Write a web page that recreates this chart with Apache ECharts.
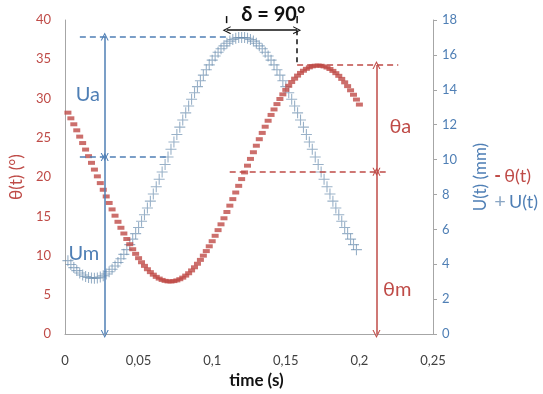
<!DOCTYPE html>
<html><head><meta charset="utf-8">
<script src="https://cdn.jsdelivr.net/npm/echarts@6/dist/echarts.min.js"></script>
<style>html,body{margin:0;padding:0;background:#fff}#c{width:543px;height:394px}</style>
</head><body><div id="c"></div>
<script>
// ---- data ----
const time = [0.002,0.004,0.006,0.008,0.010,0.012,0.014,0.016,0.018,0.020,
0.022,0.024,0.026,0.028,0.030,0.032,0.034,0.036,0.038,0.040,
0.042,0.044,0.046,0.048,0.050,0.052,0.054,0.056,0.058,0.060,
0.062,0.064,0.066,0.068,0.070,0.072,0.074,0.076,0.078,0.080,
0.082,0.084,0.086,0.088,0.090,0.092,0.094,0.096,0.098,0.100,
0.102,0.104,0.106,0.108,0.110,0.112,0.114,0.116,0.118,0.120,
0.122,0.124,0.126,0.128,0.130,0.132,0.134,0.136,0.138,0.140,
0.142,0.144,0.146,0.148,0.150,0.152,0.154,0.156,0.158,0.160,
0.162,0.164,0.166,0.168,0.170,0.172,0.174,0.176,0.178,0.180,
0.182,0.184,0.186,0.188,0.190,0.192,0.194,0.196,0.198,0.200];
const theta = [28.20,27.48,26.72,25.95,25.15,24.33,23.50,22.66,21.81,20.95,
20.09,19.23,18.38,17.53,16.70,15.88,15.08,14.30,13.54,12.81,
12.11,11.45,10.81,10.22,9.67,9.15,8.69,8.26,7.89,7.57,
7.29,7.07,6.90,6.78,6.71,6.70,6.75,6.84,6.99,7.19,
7.45,7.75,8.11,8.51,8.96,9.45,9.99,10.57,11.18,11.83,
12.52,13.24,13.98,14.75,15.55,16.36,17.19,18.03,18.88,19.74,
20.59,21.45,22.31,23.16,23.99,24.82,25.62,26.41,27.17,27.91,
28.61,29.29,29.94,30.53,31.10,31.62,32.10,32.53,32.92,33.26,
33.54,33.78,33.97,34.10,34.18,34.20,34.17,34.09,33.95,33.76,
33.52,33.23,32.89,32.50,32.06,31.58,31.05,30.48,29.87,29.23];
const disp = [4.21,3.99,3.81,3.64,3.50,3.39,3.30,3.24,3.21,3.20,
3.22,3.27,3.34,3.44,3.57,3.72,3.90,4.10,4.32,4.57,
4.84,5.13,5.44,5.76,6.11,6.47,6.84,7.23,7.62,8.03,
8.44,8.87,9.29,9.72,10.15,10.59,11.01,11.44,11.86,12.27,
12.68,13.07,13.46,13.83,14.18,14.52,14.84,15.15,15.43,15.70,
15.94,16.15,16.35,16.52,16.67,16.79,16.88,16.95,16.99,17.00,
16.99,16.95,16.88,16.79,16.67,16.52,16.35,16.15,15.94,15.70,
15.43,15.15,14.84,14.52,14.18,13.83,13.46,13.07,12.68,12.27,
11.86,11.44,11.01,10.59,10.15,9.72,9.29,8.87,8.44,8.03,
7.62,7.23,6.84,6.47,6.11,5.76,5.44,5.13,4.84];
const xTicks = [0, 0.05, 0.1, 0.15, 0.2, 0.25];
// annotation levels (data units)
const uMax = 17.05, uMean = 10.15;
const thMax = 34.28, thMean = 20.67;
const tUArrow = 0.027, tThArrow = 0.2116;
const tDeltaA = 0.1098, tDeltaB = 0.1577, thDeltaY = 38.7;
const deltaText = 'δ = 90°', tDeltaText = 0.1415, thDeltaText = 40.7;

const FONT = 'Lato, "Open Sans", sans-serif';
const RED = '#bf4b47', BLUE = '#4f7fb5', BLACK = '#111';
const chev = 'path://M0,10L5,0L10,10L8.6,10L5,2.8L1.4,10Z';

function seg(a, b, style, s1, s2) {
  return [{coord: a, lineStyle: style, symbol: s1 || 'none', symbolSize: [8, 8]},
          {coord: b, symbol: s2 || 'none', symbolSize: [8, 8]}];
}
function txt(c, s, color, size, weight) {
  return {coord: c, value: s, symbol: 'circle', symbolSize: 1, itemStyle: {color: 'rgba(0,0,0,0)'},
    label: {show: true, position: 'inside', formatter: s, color: color, fontSize: size, fontFamily: FONT, fontWeight: weight || 'normal'}};
}
const dashB = {type: [6, 4], color: BLUE, width: 1.5};
const solidB = {type: 'solid', color: BLUE, width: 1.5};
const dashR = {type: [6, 4], color: RED, width: 1.5};
const solidR = {type: 'solid', color: RED, width: 1.5};
const solidK = {type: 'solid', color: BLACK, width: 1.5};
const dashK = {type: [5, 4], color: BLACK, width: 1.5};

const chart = echarts.init(document.getElementById('c'), null, {renderer: 'canvas'});
chart.setOption({
  animation: false,
  grid: {left: 62, right: 110, top: 20, bottom: 51},
  legend: {
    orient: 'vertical', right: 0, top: 162, itemGap: 7, itemWidth: 0, itemHeight: 0,
    selectedMode: false, data: ['θ(t)', 'U(t)'],
    formatter: n => n === 'θ(t)' ? '{r|-} {rt|θ(t)}' : '{b|+} {bt|U(t)}',
    textStyle: {fontFamily: FONT, rich: {
      r: {color: RED, fontSize: 18, fontWeight: 'bold', fontFamily: FONT},
      rt: {color: RED, fontSize: 18, fontFamily: FONT},
      b: {color: '#8aa6c4', fontSize: 20, fontFamily: FONT},
      bt: {color: BLUE, fontSize: 18, fontFamily: FONT}}}
  },
  xAxis: {
    type: 'value', min: 0, max: 0.25, interval: 0.05,
    axisLine: {show: true, lineStyle: {color: '#a6a6a6'}}, axisTick: {show: false}, splitLine: {show: false},
    axisLabel: {margin: 20, color: '#404040', fontSize: 13, fontFamily: FONT,
      formatter: v => String(+v.toFixed(2)).replace('.', ',')},
    name: 'time (s)', nameLocation: 'middle', nameGap: 29,
    nameTextStyle: {color: BLACK, fontSize: 17, fontWeight: 'bold', fontFamily: FONT, padding: [0, 0, 0, 15]}
  },
  yAxis: [{
    type: 'value', min: 0, max: 40, interval: 5, position: 'left',
    axisLine: {show: true, lineStyle: {color: '#a6a6a6'}}, axisTick: {show: false}, splitLine: {show: false},
    axisLabel: {margin: 14, color: RED, fontSize: 13, fontFamily: FONT},
    name: 'θ(t) (°)', nameLocation: 'middle', nameGap: 36, nameRotate: 90,
    nameTextStyle: {color: RED, fontSize: 17, fontFamily: FONT}
  }, {
    type: 'value', min: 0, max: 18, interval: 2, position: 'right',
    axisLine: {show: true, lineStyle: {color: '#a6a6a6'}},
    axisTick: {show: true, length: 4, lineStyle: {color: '#a6a6a6'}}, splitLine: {show: false},
    axisLabel: {margin: 9, color: BLUE, fontSize: 13, fontFamily: FONT},
    name: 'U(t) (mm)', nameLocation: 'middle', nameGap: 39, nameRotate: 90,
    nameTextStyle: {color: BLUE, fontSize: 17, fontFamily: FONT}
  }],
  series: [{
    name: 'U(t)', type: 'scatter', yAxisIndex: 1, clip: false,
    symbol: 'path://M4.5,0h1v10h-1z M0,4.5h10v1h-10z', symbolSize: 11,
    itemStyle: {color: 'rgba(105,140,175,0.85)'},
    data: disp.map((v, i) => [time[i], v]),
    markLine: {silent: true, animation: false, label: {show: false}, symbol: 'none',
      data: [
        seg([0.0101, uMax], [tDeltaA, uMax], dashB),
        seg([0.0101, uMean], [0.0708, uMean], dashB),
        seg([tUArrow, uMean], [tUArrow, uMax], solidB, chev, chev),
        seg([tUArrow, uMean], [tUArrow, 0], solidB, chev, chev)
      ]},
    markPoint: {silent: true, animation: false, data: [
      txt([0.0155, 13.7], 'Ua', BLUE, 20),
      txt([0.0128, 4.6], 'Um', BLUE, 20)
    ]}
  }, {
    name: 'θ(t)', type: 'scatter', yAxisIndex: 0, clip: false,
    symbol: 'rect', symbolSize: [7, 4],
    itemStyle: {color: RED},
    data: theta.map((v, i) => [time[i], v]),
    markLine: {silent: true, animation: false, label: {show: false}, symbol: 'none',
      data: [
        seg([tDeltaB, thMax], [0.2264, thMax], dashR),
        seg([0.1119, thMean], [0.219, thMean], dashR),
        seg([tThArrow, thMean], [tThArrow, thMax], solidR, chev, chev),
        seg([tThArrow, thMean], [tThArrow, 0], solidR, chev, chev),
        seg([tDeltaA, thDeltaY], [tDeltaB, thDeltaY], solidK, chev, chev),
        seg([tDeltaB, thDeltaY], [tDeltaB, thMax], dashK)
      ]},
    markPoint: {silent: true, animation: false, data: [
      txt([0.2278, 26.4], 'θa', RED, 20),
      txt([0.2257, 5.7], 'θm', RED, 20)
    ]}
  }]
});

// annotations above the plot top (outside the axis range) placed through the axis scales
const pText = chart.convertToPixel({xAxisIndex: 0, yAxisIndex: 0}, [tDeltaText, thDeltaText]);
const pA1 = chart.convertToPixel({xAxisIndex: 0, yAxisIndex: 0}, [tDeltaA, 40.5]);
const pA2 = chart.convertToPixel({xAxisIndex: 0, yAxisIndex: 0}, [tDeltaA, 39.6]);
const pB1 = chart.convertToPixel({xAxisIndex: 0, yAxisIndex: 0}, [tDeltaB, 40.5]);
const pB2 = chart.convertToPixel({xAxisIndex: 0, yAxisIndex: 0}, [tDeltaB, 39.6]);
chart.setOption({graphic: [
  {type: 'text', x: pText[0], y: pText[1], silent: true,
   style: {text: deltaText, fill: BLACK, font: 'bold 20px ' + FONT, align: 'center', verticalAlign: 'middle'}},
  {type: 'line', silent: true, shape: {x1: pA1[0], y1: pA1[1], x2: pA2[0], y2: pA2[1]}, style: {stroke: BLACK, lineWidth: 1.5}},
  {type: 'line', silent: true, shape: {x1: pB1[0], y1: pB1[1], x2: pB2[0], y2: pB2[1]}, style: {stroke: BLACK, lineWidth: 1.5}}
]});
</script>
</body></html>
